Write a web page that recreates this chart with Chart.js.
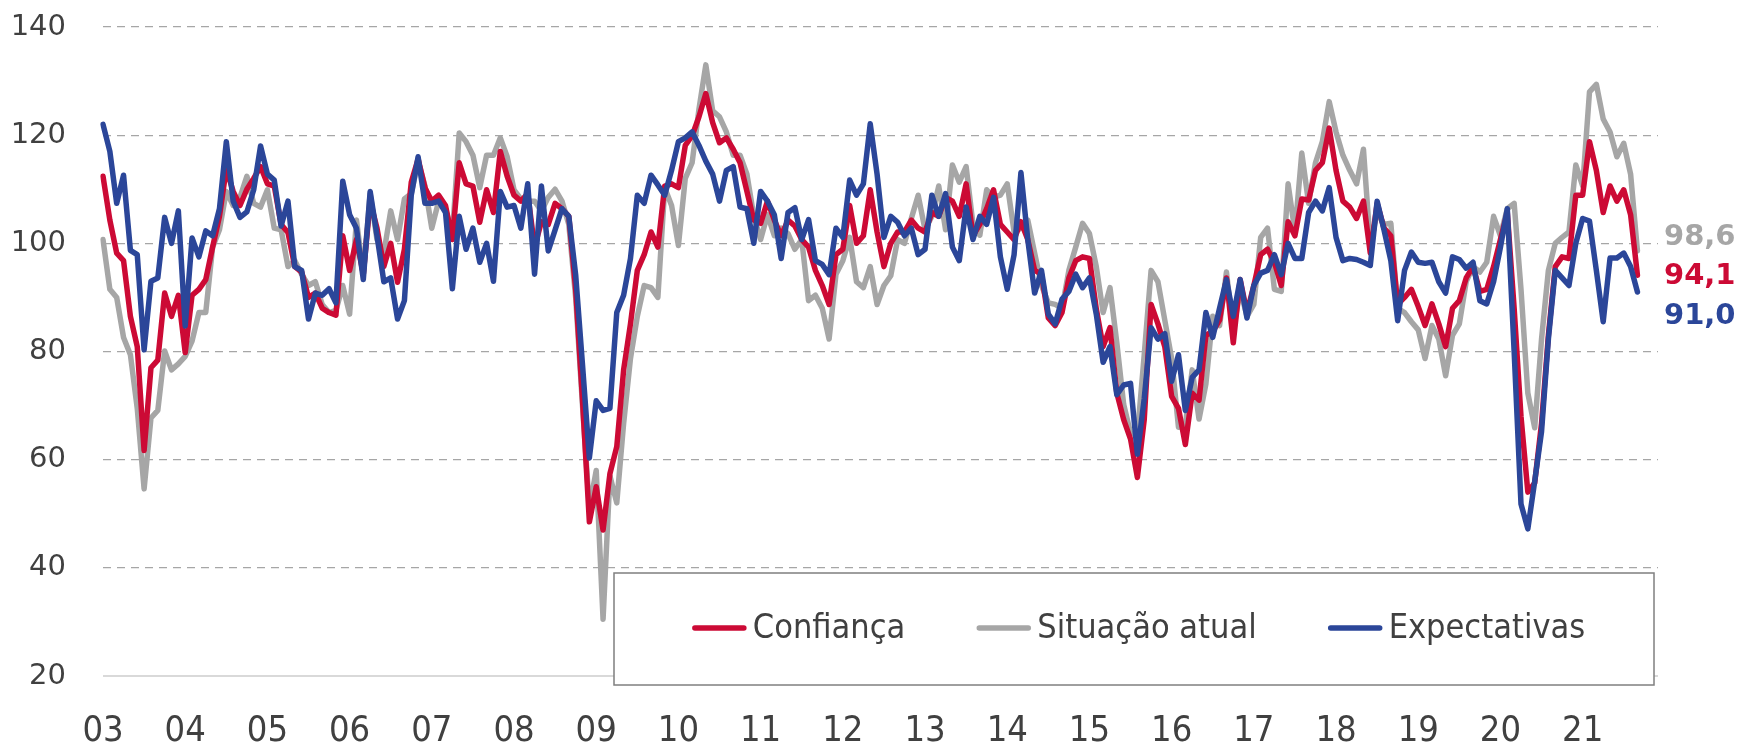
<!DOCTYPE html>
<html>
<head>
<meta charset="utf-8">
<script src="https://cdn.jsdelivr.net/npm/chart.js@4.4.1/dist/chart.umd.min.js"></script>
<style>
  html, body { margin: 0; padding: 0; background: #fff; }
</style>
</head>
<body>
<canvas id="grafico" width="1737" height="744"></canvas>
<script>
// série mensal: jan/2003 a set/2021
const anos = ['03', '04', '05', '06', '07', '08', '09', '10', '11', '12',
              '13', '14', '15', '16', '17', '18', '19', '20', '21'];

const confianca = [
  112.4, 104.3, 98.2, 96.8, 86.5, 80.9, 61.7, 77, 78.4, 90.8, 86.5, 90.4,
  79.8, 90.4, 91.5, 93.3, 99.3, 105, 113.8, 109.6, 107, 110, 112, 114.2,
  111, 110.6, 103.5, 102, 95.7, 94.7, 90, 90.8, 88, 87.2, 86.7, 101.4,
  95, 100.7, 94.3, 107.8, 102.8, 95.7, 100, 92.8, 98.9, 111.3, 115.6, 110.3,
  107.8, 108.9, 107, 100.7, 114.9, 111, 110.6, 103.9, 109.9, 105.7, 117, 112.4,
  108.9, 107.8, 109.2, 99.3, 104, 103.5, 107.4, 106.4, 105, 91.5, 71, 48.5,
  55, 47, 57.4, 62.4, 76.6, 85.1, 95, 97.9, 102.1, 99.3, 110.6, 111,
  110.3, 118.1, 119.9, 123.4, 127.7, 122.3, 118.6, 119.5, 117.4, 114.9, 109.6, 104.3,
  103.7, 107.8, 104.3, 101.4, 104.3, 103.2, 100.7, 99.3, 95, 92.2, 88.7, 97.9,
  98.9, 107, 100, 101.4, 109.9, 102.1, 95.7, 100, 102.1, 102.1, 104.3, 102.8,
  102.1, 105.7, 105, 108.5, 107.8, 105, 111, 101.4, 103.5, 106.4, 109.9, 103.5,
  102.1, 100.7, 104, 100.7, 95, 94.3, 86.2, 84.8, 87.2, 93.6, 96.8, 97.5,
  97.2, 87.9, 80.9, 84.4, 72.3, 67.4, 63.8, 56.7, 67.4, 88.7, 85.1, 80.9,
  71.7, 69.5, 62.8, 72.3, 71, 83, 83.7, 85.8, 93.6, 81.6, 93.3, 87.2,
  92.2, 97.9, 98.9, 96.5, 92.2, 104, 101.4, 108.2, 108, 113.5, 114.9, 121.3,
  113.5, 107.8, 106.7, 104.6, 107.8, 98.2, 107.4, 102.8, 101.4, 88.7, 90, 91.5,
  88.3, 84.8, 88.8, 85.1, 80.9, 88, 89.4, 93.6, 95.7, 91.1, 91.5, 95.7,
  100.7, 105.7, 88, 68, 54, 55.7, 66.7, 83, 95.7, 97.5, 97.2, 108.9,
  108.9, 118.8, 113.5, 105.7, 110.6, 107.8, 109.9, 105.3, 94.1
];

const situacaoAtual = [
  100.7, 91.5, 90, 82.6, 79.4, 69.5, 54.6, 67.7, 69.1, 80.1, 76.6, 77.7,
  79.1, 81.9, 87.2, 87.2, 99.3, 102.5, 109.6, 107, 108.5, 112.4, 107.4, 106.7,
  109.9, 102.8, 102.5, 95.7, 96.8, 94.3, 92.2, 92.9, 88.7, 87.2, 87.6, 92.2,
  86.9, 104.3, 94.3, 109.2, 100.7, 98.2, 106, 100.7, 108.2, 109.2, 115.2, 110.6,
  102.8, 107.8, 106.4, 101.4, 120.4, 118.8, 116.3, 110.3, 116.3, 116.3, 119.5, 116,
  109.9, 108.2, 107.8, 107.8, 106, 108.5, 110, 107.8, 103.5, 90, 70, 51,
  58, 30.5, 57, 52, 66.7, 78.7, 86.5, 92.2, 91.8, 90, 110.3, 107,
  99.6, 112, 114.9, 124.8, 133, 124.5, 123.4, 120.6, 116.3, 116.3, 112.8, 105,
  100.7, 105.3, 101.4, 102.8, 101.8, 98.9, 100.7, 89.4, 90.4, 88, 82.3, 94.3,
  96.8, 101.1, 92.9, 91.8, 95.7, 88.7, 92.2, 94, 100.7, 100, 104.6, 108.9,
  102.5, 105, 110.6, 102.5, 114.5, 111.3, 114.2, 103.5, 101.5, 109.9, 108.5, 108.9,
  111, 102.1, 102.8, 104.3, 98.2, 92.2, 89, 88.7, 88, 95, 99.3, 103.7,
  101.8, 95.7, 87.2, 91.8, 81.6, 70.2, 64.9, 64.5, 79.4, 95, 92.9, 85.8,
  78.7, 66, 66.3, 76.6, 67.5, 74, 86.5, 84.8, 94.7, 83.7, 91.5, 86.5,
  88.7, 101.1, 102.8, 91.5, 91.1, 111, 102.1, 116.7, 107.4, 114.9, 118.8, 126.2,
  120.6, 116.3, 113.5, 111, 117.4, 99.6, 105.7, 103.5, 103.7, 88, 87.2, 85.5,
  84, 78.7, 84.8, 82.3, 75.5, 83, 85.1, 92.9, 95.7, 94.7, 96.5, 105,
  101.4, 106.4, 107.4, 91.5, 72.3, 65.9, 82.3, 95, 100, 101.1, 102.1, 114.5,
  110.6, 128, 129.4, 123, 120.6, 116, 118.5, 112.8, 98.6
];

const expectativas = [
  122, 117, 107.4, 112.6, 98.7, 97.9, 80.3, 93, 93.6, 104.8, 100, 106,
  84.7, 101, 97.5, 102.3, 101.4, 106.4, 118.8, 107.8, 104.8, 105.8, 109.9, 118,
  112.8, 111.7, 103.2, 107.8, 95.7, 95, 86, 90.8, 90.4, 91.6, 89, 111.5,
  105.3, 102.8, 93.3, 109.6, 101.4, 92.9, 93.6, 86, 89.4, 108.9, 116, 107.4,
  107.4, 107.8, 105.7, 91.6, 105, 98.9, 102.8, 96.5, 100, 93, 109.6, 106.7,
  107, 102.8, 111, 94.3, 110.6, 98.6, 102.5, 106.4, 105, 94.2, 77.5, 60.3,
  70.9, 69.1, 69.5, 87.2, 90.4, 97.2, 108.9, 107.4, 112.6, 110.8, 108.9, 113.5,
  118.8, 119.5, 120.6, 118.1, 115.2, 112.8, 107.8, 113.5, 114.2, 106.7, 106.4, 100,
  109.6, 107.8, 105.3, 97.2, 105.7, 106.6, 100.7, 104.4, 96.8, 96.1, 94.2, 102.8,
  101.1, 111.7, 108.9, 111, 122.1, 112.8, 101.1, 105, 103.9, 101.4, 102.8, 97.9,
  98.9, 108.9, 105, 109.2, 99.3, 96.8, 106.7, 100.7, 105, 103.5, 108.5, 97.5,
  91.5, 97.9, 113.1, 100.7, 90.8, 95, 86.9, 85.1, 89.7, 91.1, 94.3, 91.8,
  93.6, 86.9, 78, 80.9, 72, 73.8, 74.1, 61, 71.3, 84.4, 82.3, 83.3,
  74.5, 79.4, 69.1, 75.2, 76.6, 87.2, 82.6, 88, 93.3, 86.5, 93.3, 86.2,
  92.2, 94.5, 95, 97.9, 94.2, 100, 97.2, 97.2, 105.7, 107.8, 106, 110.3,
  101.1, 96.8, 97.2, 97, 96.5, 95.9, 107.8, 102.5, 96.8, 85.7, 95, 98.4,
  96.5, 96.3, 96.5, 92.9, 90.8, 97.5, 97, 95.4, 96.5, 89.4, 88.8, 92.9,
  99.3, 106.4, 80, 51.8, 47.2, 56, 65.2, 82.3, 95, 93.6, 92.2, 100,
  104.6, 104.1, 95, 85.5, 97.3, 97.3, 98.2, 95.7, 91
];

// um rótulo por mês (até dez/2021); só janeiro mostra o ano
const meses = anos.flatMap(a => Array.from({ length: 12 }, (_, m) => (m === 0 ? a : '')));

const VERMELHO = '#CC0A35';
const CINZA = '#A6A6A6';
const AZUL = '#2B4699';
const TEXTO = '#404040';

// rótulos do último valor, à direita das linhas
const rotulosFinais = {
  id: 'rotulosFinais',
  afterDatasetsDraw(chart) {
    const { ctx } = chart;
    const ajuste = [1, -13, 24]; // deslocamento vertical de cada rótulo
    ctx.save();
    ctx.font = 'bold 29px "DejaVu Sans"';
    ctx.textBaseline = 'middle';
    ctx.textAlign = 'left';
    chart.data.datasets.forEach((ds, i) => {
      const ult = ds.data[ds.data.length - 1];
      const y = chart.scales.y.getPixelForValue(ult) + ajuste[i];
      ctx.fillStyle = ds.borderColor;
      ctx.fillText(ult.toFixed(1).replace('.', ','), 1664, y);
    });
    ctx.restore();
  }
};

// legenda dentro de uma caixa na parte de baixo do gráfico
const caixaLegenda = {
  id: 'caixaLegenda',
  afterDraw(chart) {
    const { ctx } = chart;
    const x0 = 614, y0 = 573, x1 = 1654, y1 = 685;
    ctx.save();
    ctx.fillStyle = '#fff';
    ctx.fillRect(x0, y0, x1 - x0, y1 - y0);
    ctx.strokeStyle = '#7F7F7F';
    ctx.lineWidth = 1.5;
    ctx.strokeRect(x0, y0, x1 - x0, y1 - y0);

    ctx.font = '34px "DejaVu Sans Condensed", "DejaVu Sans"';
    ctx.textBaseline = 'middle';
    const amostra = 53, folga = 7, entre = 72;
    const itens = chart.data.datasets.map(ds => ({
      cor: ds.borderColor, texto: ds.label, w: ctx.measureText(ds.label).width
    }));
    const total = itens.reduce((s, it) => s + amostra + folga + it.w, 0) + entre * (itens.length - 1);
    let x = (x0 + x1) / 2 - total / 2 + 5;
    const y = 628;
    itens.forEach(it => {
      ctx.strokeStyle = it.cor;
      ctx.lineWidth = 5.5;
      ctx.lineCap = 'round';
      ctx.beginPath();
      ctx.moveTo(x + 2, y);
      ctx.lineTo(x + amostra - 2, y);
      ctx.stroke();
      ctx.fillStyle = TEXTO;
      ctx.fillText(it.texto, x + amostra + folga, y + 1);
      x += amostra + folga + it.w + entre;
    });
    ctx.restore();
  }
};

const estiloLinha = {
  borderWidth: 5.5,
  pointRadius: 0,
  tension: 0,
  borderJoinStyle: 'round',
  borderCapStyle: 'round',
  fill: false
};

new Chart(document.getElementById('grafico'), {
  type: 'line',
  data: {
    labels: meses,
    datasets: [
      { label: 'Confiança', data: confianca, borderColor: VERMELHO, order: 1, ...estiloLinha },
      { label: 'Situação atual', data: situacaoAtual, borderColor: CINZA, order: 2, ...estiloLinha },
      { label: 'Expectativas', data: expectativas, borderColor: AZUL, order: 0, ...estiloLinha }
    ]
  },
  options: {
    responsive: false,
    animation: false,
    devicePixelRatio: 1,
    layout: { padding: { top: 27, right: 79, left: 0, bottom: 0 } },
    plugins: {
      legend: { display: false },
      tooltip: { enabled: false }
    },
    scales: {
      x: {
        type: 'category',
        offset: false,
        grid: { display: false, drawTicks: false },
        border: { display: false },
        ticks: {
          autoSkip: false,
          maxRotation: 0,
          minRotation: 0,
          padding: 34,
          color: TEXTO,
          font: { family: '"DejaVu Sans Condensed", "DejaVu Sans"', size: 36 }
        },
        afterFit(scale) { scale.height = 68; }
      },
      y: {
        min: 20,
        max: 140,
        ticks: {
          stepSize: 20,
          padding: 37,
          color: TEXTO,
          font: { family: '"DejaVu Sans"', size: 29 }
        },
        grid: {
          drawTicks: false,
          color: c => (c.tick && c.tick.value === 20 ? '#D9D9D9' : CINZA),
          lineWidth: c => (c.tick && c.tick.value === 20 ? 2 : 1.3)
        },
        border: {
          display: false,
          dash: c => (c.tick && c.tick.value === 20 ? [] : [8, 6])
        },
        afterFit(scale) {
          scale.width = 103;
          scale.paddingTop = 0;
          scale.paddingBottom = 0;
        }
      }
    }
  },
  plugins: [rotulosFinais, caixaLegenda]
});
</script>
</body>
</html>
